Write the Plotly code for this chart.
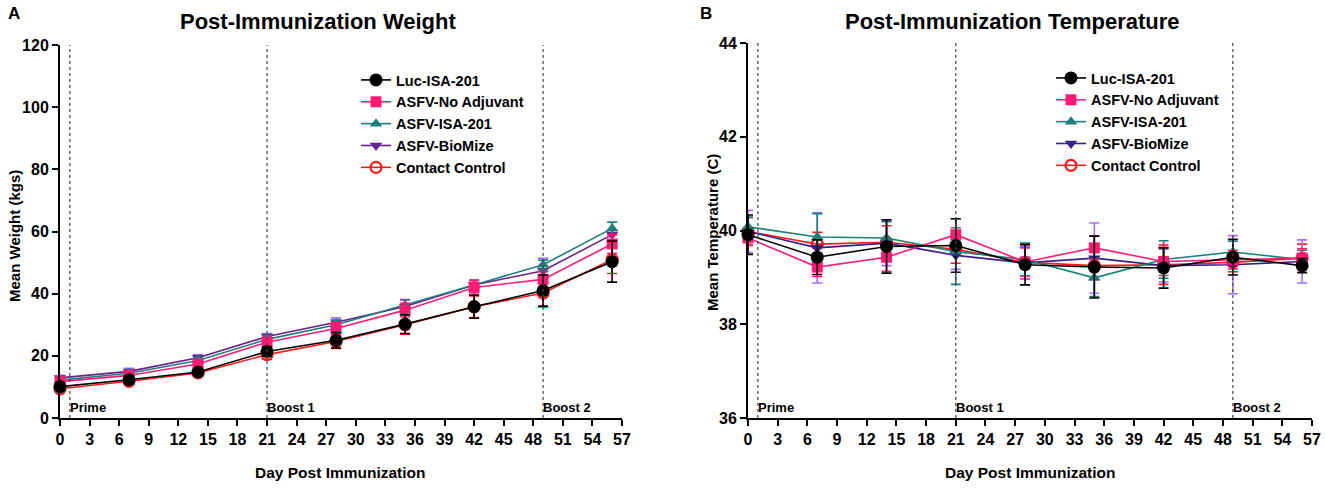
import plotly.graph_objects as go

# days of measurement
days = [0, 7, 14, 21, 28, 35, 42, 49, 56]

# weight (kgs), mean and SEM
luc_w = [10.1, 12.3, 14.8, 21.4, 25.0, 30.2, 35.8, 41.0, 50.3]
luc_w_err = [1.0, 1.0, 1.0, 1.5, 2.5, 3.0, 3.7, 5.0, 6.6]
noadj_w = [11.7, 13.7, 17.4, 24.4, 28.8, 34.7, 42.0, 44.6, 56.0]
noadj_w_err = [1.0, 1.0, 1.2, 1.5, 2.0, 2.2, 2.2, 2.5, 3.0]
isa_w = [12.2, 14.4, 18.5, 25.3, 30.0, 36.3, 42.8, 49.3, 61.0]
isa_w_err = [1.0, 1.0, 1.0, 1.2, 1.5, 1.8, 1.6, 1.5, 2.0]
bio_w = [12.9, 15.0, 19.4, 26.2, 30.8, 35.9, 42.8, 47.4, 59.0]
bio_w_err = [0.8, 1.0, 1.0, 1.0, 1.4, 2.0, 1.5, 4.0, 4.0]
cc_w = [9.4, 11.8, 14.5, 20.4, 24.6, 30.0, 35.8, 40.2, 51.0]
cc_w_err = [1.0, 1.0, 1.0, 1.5, 2.2, 3.0, 3.5, 4.5, 4.5]

# temperature (C), mean and SEM
luc_t = [39.91, 39.43, 39.66, 39.68, 39.27, 39.22, 39.20, 39.43, 39.25]
luc_t_err = [0.42, 0.37, 0.57, 0.57, 0.43, 0.66, 0.43, 0.38, 0.15]
noadj_t = [39.84, 39.22, 39.43, 39.91, 39.33, 39.63, 39.34, 39.38, 39.41]
noadj_t_err = [0.15, 0.2, 0.3, 0.15, 0.3, 0.25, 0.3, 0.2, 0.2]
isa_t = [40.08, 39.86, 39.84, 39.55, 39.38, 38.99, 39.38, 39.54, 39.38]
isa_t_err = [0.2, 0.5, 0.35, 0.7, 0.35, 0.4, 0.4, 0.23, 0.2]
bio_t = [39.98, 39.63, 39.73, 39.47, 39.31, 39.41, 39.25, 39.27, 39.34]
bio_t_err = [0.45, 0.75, 0.48, 0.3, 0.35, 0.75, 0.35, 0.62, 0.46]
cc_t = [39.98, 39.71, 39.75, 39.60, 39.32, 39.25, 39.27, 39.32, 39.41]
cc_t_err = [0.3, 0.25, 0.35, 0.3, 0.35, 0.3, 0.42, 0.2, 0.3]

group_names = ["Luc-ISA-201", "ASFV-No Adjuvant", "ASFV-ISA-201", "ASFV-BioMize", "Contact Control"]

event_days = [1, 21, 49]
event_labels = ["Prime", "Boost 1", "Boost 2"]

x_ticks = list(range(0, 58, 3))
weight_ticks = [0, 20, 40, 60, 80, 100, 120]
temp_ticks = [36, 38, 40, 42, 44]

FONT = "Liberation Sans, Arial, sans-serif"

W, H = 1325, 488

# style per group: line colour, marker symbol, size, error bar colour
styles = {
    "Luc-ISA-201": dict(color="#000000", symbol="circle", size=13, err="#000000"),
    "ASFV-No Adjuvant": dict(color="#FF1A75", symbol="square", size=11, err="#FF1A75"),
    "ASFV-ISA-201": dict(color="#1B7F7B", symbol="triangle-up", size=11, err="#1B7F7B"),
    "ASFV-BioMize": dict(color="#6B1F8C", symbol="triangle-down", size=11, err="#A46BFF"),
    "Contact Control": dict(color="#FF1A1A", symbol="circle-open", size=11, err="#FF1A1A"),
}


def px_x(X):
    return X / W


def px_y(Y):
    return 1 - Y / H


def add_group(fig, name, y, err, xaxis, yaxis, legend, line_color=None):
    st = styles[name]
    col = line_color or st["color"]
    fig.add_trace(go.Scatter(
        x=days, y=y, name=name, mode="lines+markers",
        xaxis=xaxis, yaxis=yaxis, legend=legend,
        legendgroup=legend + name,
        legendrank=group_names.index(name) + 1,
        line=dict(color=col, width=1.6),
        marker=dict(symbol=st["symbol"], size=st["size"], color=col,
                    line=dict(color=col, width=2.2 if "open" in st["symbol"] else 0)),
        error_y=dict(type="data", array=err, color=st["err"], thickness=1.6, width=5),
        cliponaxis=False,
    ))


def make_plot():
    fig = go.Figure()

    weight = {
        "Luc-ISA-201": (luc_w, luc_w_err),
        "ASFV-No Adjuvant": (noadj_w, noadj_w_err),
        "ASFV-ISA-201": (isa_w, isa_w_err),
        "ASFV-BioMize": (bio_w, bio_w_err),
        "Contact Control": (cc_w, cc_w_err),
    }
    temp = {
        "Luc-ISA-201": (luc_t, luc_t_err),
        "ASFV-No Adjuvant": (noadj_t, noadj_t_err),
        "ASFV-ISA-201": (isa_t, isa_t_err),
        "ASFV-BioMize": (bio_t, bio_t_err),
        "Contact Control": (cc_t, cc_t_err),
    }

    # draw order: black on top
    draw_order = ["Contact Control", "ASFV-BioMize", "ASFV-ISA-201", "ASFV-No Adjuvant", "Luc-ISA-201"]
    for name in draw_order:
        add_group(fig, name, weight[name][0], weight[name][1], "x", "y", "legend")
    for name in draw_order:
        lc = "#3A1E8C" if name == "ASFV-BioMize" else None
        add_group(fig, name, temp[name][0], temp[name][1], "x2", "y2", "legend2", line_color=lc)

    axis_common = dict(
        showline=True, linecolor="black", linewidth=2, ticks="outside", ticklen=6,
        tickwidth=2, tickcolor="black", showgrid=False, zeroline=False, automargin=False,
        tickfont=dict(family=FONT, size=16, color="black", weight="bold"),
    )

    legend_common = dict(xanchor="left", yanchor="top", bgcolor="rgba(0,0,0,0)",
                         font=dict(family=FONT, size=14.5, weight="bold"), itemwidth=30,
                         tracegroupgap=0)

    fig.update_layout(
        width=W, height=H,
        margin=dict(l=0, r=0, t=0, b=0),
        paper_bgcolor="white", plot_bgcolor="white",
        font=dict(family=FONT, color="black"),
        xaxis=dict(domain=[px_x(60), px_x(622)], range=[0, 57], tickvals=x_ticks, anchor="y", **axis_common),
        yaxis=dict(domain=[px_y(418), px_y(45)], range=[0, 120], tickvals=weight_ticks, anchor="x", **axis_common),
        xaxis2=dict(domain=[px_x(748), px_x(1312)], range=[0, 57], tickvals=x_ticks, anchor="y2", **axis_common),
        yaxis2=dict(domain=[px_y(418), px_y(43)], range=[36, 44], tickvals=temp_ticks, anchor="x2", **axis_common),
        legend=dict(x=px_x(356), y=px_y(64), **legend_common),
        legend2=dict(x=px_x(1051), y=px_y(62), **legend_common),
    )

    # vaccination events
    for xa, ya in [("x", "y"), ("x2", "y2")]:
        for d, lab in zip(event_days, event_labels):
            fig.add_shape(type="line", xref=xa, yref=ya + " domain", x0=d, x1=d, y0=0, y1=1,
                          line=dict(color="#444444", width=1.2, dash="dot"))
            fig.add_annotation(x=d, y=0, xref=xa, yref=ya + " domain", text=lab, showarrow=False,
                               xanchor="left", yanchor="bottom", xshift=-2, yshift=1,
                               font=dict(family=FONT, size=13, color="black", weight="bold"))

    texts = [
        dict(x=318, y=22, text="Post-Immunization Weight", size=22),
        dict(x=1012, y=22, text="Post-Immunization Temperature", size=22),
        dict(x=14, y=13, text="A", size=17),
        dict(x=706, y=13, text="B", size=17),
        dict(x=341, y=472, text="Day Post Immunization", size=15.5),
        dict(x=1030, y=472, text="Day Post Immunization", size=15.5),
    ]
    for t in texts:
        fig.add_annotation(x=px_x(t["x"]), y=px_y(t["y"]), xref="paper", yref="paper", text=t["text"],
                           showarrow=False, xanchor="center", yanchor="middle",
                           font=dict(family=FONT, size=t["size"], color="black", weight="bold"))

    fig.add_annotation(x=px_x(14), y=px_y(236), xref="paper", yref="paper", text="Mean Weight (kgs)",
                       showarrow=False, textangle=-90, xanchor="center", yanchor="middle",
                       font=dict(family=FONT, size=15, color="black", weight="bold"))
    fig.add_annotation(x=px_x(712), y=px_y(232), xref="paper", yref="paper", text="Mean Temperature (C)",
                       showarrow=False, textangle=-90, xanchor="center", yanchor="middle",
                       font=dict(family=FONT, size=15, color="black", weight="bold"))
    return fig


if __name__ == "__main__":
    fig = make_plot()
    # drop the default page margin so the figure sits at the window corner
    fig.write_html("out.html", config={"displayModeBar": False},
                   post_script="document.body.style.margin='0';")
